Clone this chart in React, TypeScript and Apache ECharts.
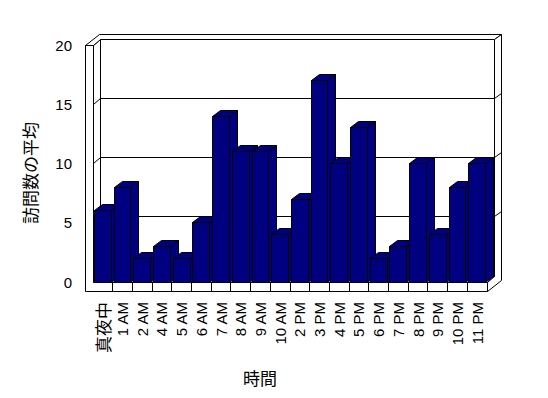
import React, { useEffect, useRef } from 'react';
import * as echarts from 'echarts';

const categories = ['真夜中', '1 AM', '2 AM', '4 AM', '5 AM', '6 AM', '7 AM', '8 AM', '9 AM', '10 AM', '2 PM', '3 PM', '4 PM', '5 PM', '6 PM', '7 PM', '8 PM', '9 PM', '10 PM', '11 PM'];
const visits = [6, 8, 2, 3, 2, 5, 14, 11, 11, 4, 7, 17, 10, 13, 2, 3, 10, 4, 8, 10];
const yMin = 0;
const yMax = 20;
const yStep = 5;
const xTitle = '時間';
const yTitle = '訪問数の平均';

const NAVY = '#000080';
const DX = 7, DY = -6;      // floor / wall depth
const TX = 7, TY = -5;      // back wall thickness
const BDX = 8, BDY = -6;    // bar depth
const WALL = 8;             // left wall thickness
const FLOOR = 9;            // floor thickness

const snap = (v: number) => Math.round(v - 0.5) + 0.5;

export default function App() {
  const ref = useRef<HTMLDivElement>(null);
  useEffect(() => {
    const chart = echarts.init(ref.current!, null, { renderer: 'svg' });

    const frameRender = (params: any, api: any) => {
      const c0 = api.coord([0, yMin]);
      const bw = api.size([1, 0])[0];
      const L = snap(c0[0] - bw / 2);
      const R = snap(c0[0] - bw / 2 + bw * categories.length);
      const yF = (v: number) => snap(api.coord([0, v])[1]);
      const y0 = yF(yMin);
      const yT = yF(yMax);
      const children: any[] = [];
      const poly = (pts: number[][], fill = '#fff') => ({
        type: 'polygon', shape: { points: pts }, style: { fill, stroke: '#000', lineWidth: 1 },
      });
      const ln = (x1: number, y1: number, x2: number, y2: number) => ({
        type: 'line', shape: { x1, y1, x2, y2 }, style: { stroke: '#000', lineWidth: 1 },
      });
      children.push(poly([[L + DX, yT + DY], [R + DX, yT + DY], [R + DX, y0 + DY], [L + DX, y0 + DY]]));
      children.push(poly([[L, yT], [L + DX, yT + DY], [L + DX, y0 + DY], [L, y0]]));
      for (let v = yMin + yStep; v < yMax; v += yStep) {
        const y = yF(v);
        children.push(ln(L + DX, y + DY, R + DX, y + DY));
        children.push(ln(L, y, L + DX, y + DY));
      }
      children.push(poly([[L, y0], [R, y0], [R + DX, y0 + DY], [L + DX, y0 + DY]]));
      children.push(poly([
        [L - WALL, yT], [L - WALL + DX + TX, yT + DY + TY], [R + DX + TX, yT + DY + TY],
        [R + DX, yT + DY], [L + DX, yT + DY], [L, yT],
      ]));
      children.push(poly([
        [R, y0], [R, y0 + FLOOR], [R + DX + TX, y0 + FLOOR + DY + TY], [R + DX + TX, yT + DY + TY],
        [R + DX, yT + DY], [R + DX, y0 + DY],
      ]));
      for (let v = yMin + yStep; v < yMax; v += yStep) {
        const y = yF(v);
        children.push(ln(R + DX, y + DY, R + DX + TX, y + DY + TY));
      }
      children.push(poly([
        [L - WALL, yT], [L, yT], [L, y0], [R, y0], [R, y0 + FLOOR], [L - WALL, y0 + FLOOR],
      ]));
      for (let k = 1; k < categories.length; k++) {
        const x = snap(c0[0] - bw / 2 + bw * k);
        children.push(ln(x, y0, x, y0 + FLOOR));
      }
      return { type: 'group', children };
    };

    const barRender = (params: any, api: any) => {
      const idx = api.value(0);
      const v = api.value(1);
      const top = api.coord([idx, v]);
      const base = api.coord([idx, yMin]);
      const bw = api.size([1, 0])[0];
      const w = bw * 0.85;
      const xL = snap(top[0] - w / 2);
      const xR = snap(top[0] + w / 2);
      const yTop = snap(top[1]);
      const yBot = snap(base[1]);
      const st = { fill: NAVY, stroke: '#000', lineWidth: 1 };
      return {
        type: 'group',
        children: [
          { type: 'polygon', shape: { points: [[xR, yTop], [xR + BDX, yTop + BDY], [xR + BDX, yBot + BDY], [xR, yBot]] }, style: st },
          { type: 'polygon', shape: { points: [[xL, yTop], [xR, yTop], [xR + BDX, yTop + BDY], [xL + BDX, yTop + BDY]] }, style: st },
          { type: 'rect', shape: { x: xL, y: yTop, width: xR - xL, height: yBot - yTop }, style: st },
        ],
      };
    };

    const option: any = {
      animation: false,
      backgroundColor: '#fff',
      grid: { left: 93, top: 45, width: 394, height: 237, containLabel: false, outerBoundsMode: 'none' },
      xAxis: {
        type: 'category',
        data: categories,
        boundaryGap: true,
        axisLine: { show: false },
        axisTick: { show: false },
        splitLine: { show: false },
        axisLabel: {
          interval: 0,
          rotate: 90,
          margin: 20,
          color: '#000',
          fontSize: 15,
          fontFamily: "'Liberation Sans', 'Noto Sans CJK JP', sans-serif",
          formatter: (s: string) => (/[^\x00-\x7f]/.test(s) ? '{cjk|' + s + '}' : s),
          rich: {
            cjk: { fontSize: 17, color: '#000', fontFamily: "'Noto Sans CJK JP', sans-serif" },
          },
        },
      },
      yAxis: {
        type: 'value',
        min: yMin,
        max: yMax,
        interval: yStep,
        axisLine: { show: false },
        axisTick: { show: false },
        splitLine: { show: false },
        axisLabel: {
          margin: 21,
          color: '#000',
          fontSize: 15,
          fontFamily: "'Liberation Sans', sans-serif",
        },
      },
      series: [
        {
          type: 'custom',
          z: 1,
          silent: true,
          renderItem: frameRender,
          data: [[0, yMin]],
          encode: { x: 0, y: 1 },
        },
        {
          type: 'custom',
          z: 2,
          renderItem: barRender,
          data: categories.map((c, i) => [i, visits[i]]),
          encode: { x: 0, y: 1 },
        },
      ],
      graphic: [
        {
          type: 'text',
          x: 260,
          y: 377,
          style: {
            text: xTitle,
            align: 'center',
            verticalAlign: 'middle',
            fill: '#000',
            fontSize: 17,
            fontFamily: "'Noto Sans CJK JP', sans-serif",
          },
        },
        {
          type: 'text',
          x: 29,
          y: 173,
          rotation: Math.PI / 2,
          style: {
            text: yTitle,
            align: 'center',
            verticalAlign: 'middle',
            fill: '#000',
            fontSize: 17,
            fontFamily: "'Noto Sans CJK JP', sans-serif",
          },
        },
      ],
    };
    chart.setOption(option);
    return () => chart.dispose();
  }, []);
  return (
    <div
      ref={ref}
      style={{ position: 'absolute', left: 0, top: 0, width: 548, height: 398, background: '#fff' }}
    />
  );
}
